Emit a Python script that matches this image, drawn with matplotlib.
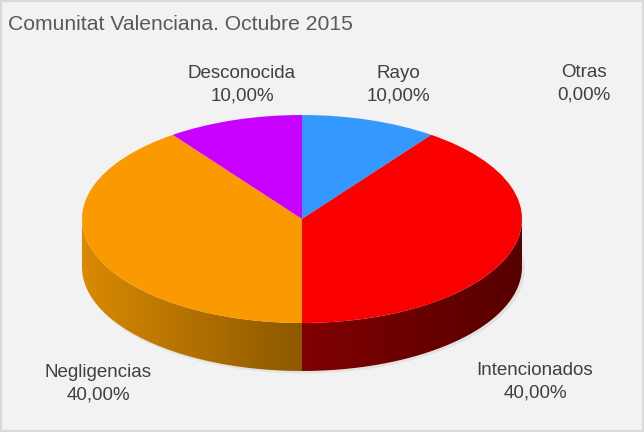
import numpy as np
import matplotlib.pyplot as plt
from matplotlib.path import Path
from matplotlib.patches import PathPatch, Rectangle
from matplotlib.colors import LinearSegmentedColormap

# datos
categorias = ['Rayo', 'Intencionados', 'Negligencias', 'Desconocida', 'Otras']
valores = [10, 40, 40, 10, 0]
etiquetas = ['10,00%', '40,00%', '40,00%', '10,00%', '0,00%']
colores = ['#3399ff', '#fa0000', '#fb9a00', '#c800ff', '#00b050']
# color del lateral (izquierda -> derecha)
lateral = [('#1f5f9f', '#16487a'), ('#800000', '#560000'), ('#d98a00', '#8c5800'),
           ('#7a0099', '#5a0070'), ('#00702f', '#005020')]
titulo = 'Comunitat Valenciana. Octubre 2015'

# posiciones de las etiquetas (px)
pos_etiquetas = [(398, 85), (535, 382), (98, 384), (242, 85), (584, 84)]

W, H = 644, 432
cx_px, cy_px = 302, 219
a_px, b_px = 220, 104
prof_px = 48
k = b_px / a_px

fig = plt.figure(figsize=(W / 100, H / 100), dpi=100)
fig.patch.set_facecolor('#f2f2f2')
ax = fig.add_axes([0, 0, 1, 1])
ax.set_facecolor('#f2f2f2')

cx = cx_px
cy = (H - cy_px) / k
d = prof_px / k

# sombra
sombra = ax.pie([1], colors=['#d4d4d4'], center=(cx + 2, cy - d - 2 / k), radius=a_px + 1,
                frame=True, wedgeprops=dict(linewidth=0))[0][0]
sombra.set_alpha(0.5)

# lateral con degradado
ang = 90 - np.concatenate([[0], np.cumsum(valores)]) * 3.6
for i, v in enumerate(valores):
    t1, t2 = ang[i + 1], ang[i]  # t1 < t2
    lo, hi = max(t1, -180), min(t2, 0)
    if v == 0 or lo >= hi:
        continue
    th = np.radians(np.linspace(lo, hi, 80))
    xs = cx + a_px * np.cos(th)
    top = cy + a_px * np.sin(th)
    bot = top - d
    verts = list(zip(xs, top)) + list(zip(xs[::-1], bot[::-1])) + [(xs[0], top[0])]
    clip = PathPatch(Path(verts), facecolor='none', edgecolor='none')
    ax.add_patch(clip)
    cmap = LinearSegmentedColormap.from_list('l%d' % i, lateral[i])
    grad = np.linspace(0, 1, 256).reshape(1, -1)
    im = ax.imshow(grad, cmap=cmap, aspect='auto', interpolation='bilinear',
                   extent=(xs.min(), xs.max(), bot.min(), top.max()), zorder=2)
    im.set_clip_path(clip)

# cara superior
wedges, _ = ax.pie(valores, colors=colores, startangle=90, counterclock=False,
                   center=(cx, cy), radius=a_px, frame=True,
                   wedgeprops=dict(linewidth=0))
for w in wedges:
    w.set_zorder(3)

ax.set_xlim(0, W)
ax.set_ylim(0, H / k)
ax.set_aspect('auto')
ax.axis('off')

fuente = ['Liberation Sans Narrow', 'Liberation Sans', 'DejaVu Sans']
fig.text(8 / W, 1 - 24 / H, titulo, fontsize=15.2, color='#595959', family=fuente,
         va='center', ha='left')
for nombre, pct, (x, y) in zip(categorias, etiquetas, pos_etiquetas):
    fig.text(x / W, 1 - y / H, nombre + '\n' + pct, fontsize=13.5, color='#404040',
             family=fuente, ha='center', va='center', linespacing=1.45)

fig.patches.append(Rectangle((0, 0), 1, 1, transform=fig.transFigure, fill=False,
                             edgecolor='#d9d9d9', linewidth=3))

fig.savefig('out.png', dpi=100, facecolor=fig.get_facecolor())
